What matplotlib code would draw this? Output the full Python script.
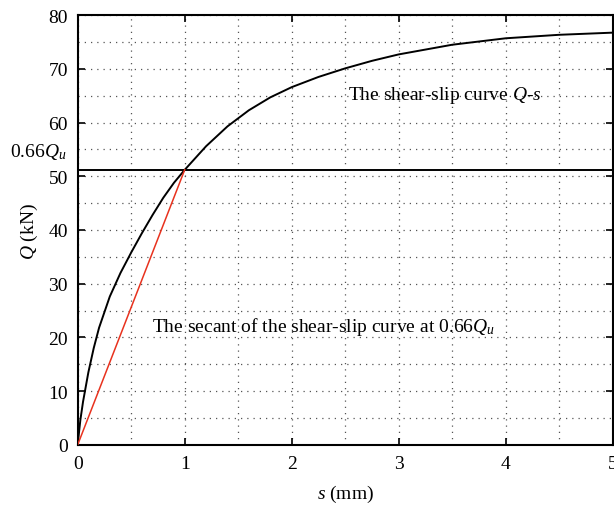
import numpy as np
import matplotlib
matplotlib.use('Agg')
import matplotlib.pyplot as plt
import matplotlib.transforms as mtrans
from matplotlib.ticker import MultipleLocator

# shear-slip curve
slip = [0, 0.025, 0.05, 0.1, 0.15, 0.2, 0.3, 0.4, 0.5, 0.6, 0.7, 0.8, 0.9, 1.0,
        1.2, 1.4, 1.6, 1.8, 2.0, 2.25, 2.5, 2.75, 3.0, 3.5, 4.0, 4.5, 5.0]
shear = [0, 4.6, 8.0, 13.5, 18.0, 21.8, 27.6, 32.0, 35.8, 39.4, 42.8, 46.0, 48.8, 51.2,
         55.6, 59.3, 62.3, 64.7, 66.6, 68.5, 70.1, 71.5, 72.7, 74.5, 75.7, 76.35, 76.75]
q_066 = 51.2          # 0.66 Qu
s_066 = 1.0           # slip at 0.66 Qu

plt.rcParams['font.family'] = ['Liberation Serif', 'DejaVu Serif']
plt.rcParams['mathtext.fontset'] = 'custom'
plt.rcParams['mathtext.rm'] = 'Liberation Serif'
plt.rcParams['mathtext.it'] = 'Liberation Serif:italic'
plt.rcParams['font.size'] = 14

fig = plt.figure(figsize=(6.14, 5.06), dpi=100)
ax = fig.add_axes([0.1265, 0.119, 0.8715, 0.849])

ax.plot(slip, shear, color='black', lw=1.4, zorder=3, solid_joinstyle='round')
ax.axhline(q_066, color='black', lw=1.4, zorder=3)
ax.plot([0, s_066], [0, q_066], color='#e8321e', lw=1.1, zorder=3)

ax.set_xlim(0, 5)
ax.set_ylim(0, 80)
ax.xaxis.set_major_locator(MultipleLocator(1))
ax.xaxis.set_minor_locator(MultipleLocator(0.5))
ax.yaxis.set_major_locator(MultipleLocator(10))
ax.yaxis.set_minor_locator(MultipleLocator(5))
ax.grid(which='both', color='#555555', linestyle=(0, (1, 4)), lw=0.9)
ax.tick_params(which='major', direction='in', length=5, width=1.2,
               top=True, right=True, pad=7, labelsize=14)
ax.tick_params(which='minor', length=0)
for sp in ax.spines.values():
    sp.set_linewidth(1.5)

ax.set_xlabel('$s$ (mm)', fontsize=14, labelpad=8)
ax.set_ylabel('$Q$ (kN)', fontsize=14, labelpad=6)

ax.text(2.526, 64.3, 'The shear-slip curve $Q$-$s$', fontsize=14,
        ha='left', va='baseline')
ax.text(0.694, 21.2, 'The secant of the shear-slip curve at 0.66$Q_u$',
        fontsize=14, ha='left', va='baseline')
trans = mtrans.blended_transform_factory(ax.transAxes, ax.transData)
ax.text(-0.02, 53.8, '0.66$Q_u$', fontsize=14, ha='right', va='baseline',
        transform=trans)

fig.savefig('out.png', dpi=100, facecolor='white')
